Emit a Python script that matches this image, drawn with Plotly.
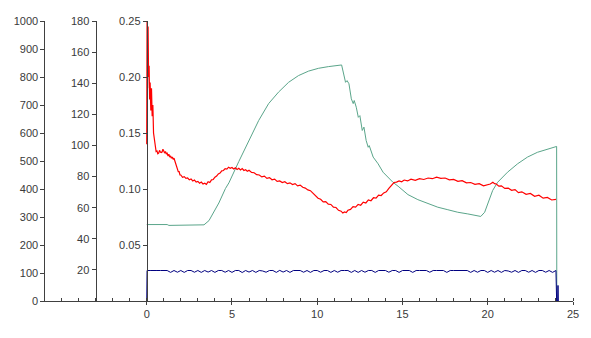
import plotly.graph_objects as go

# ---- data ----
# red series (time, value)
red_pairs = [
    (0.0, 0.140), (0.02, 0.250), (0.05, 0.190), (0.08, 0.245), (0.11, 0.200), (0.14, 0.210),
    (0.17, 0.180), (0.2, 0.195), (0.24, 0.170), (0.28, 0.190), (0.32, 0.165), (0.36, 0.175),
    (0.4, 0.150), (0.45, 0.145), (0.5, 0.136), (0.55, 0.1335), (0.6, 0.134), (0.65, 0.1315),
    (0.7, 0.132), (0.75, 0.1345), (0.8, 0.133), (0.85, 0.1325), (0.9, 0.133), (0.95, 0.1355),
    (1.0, 0.134), (1.05, 0.132), (1.1, 0.1335), (1.15, 0.1315), (1.2, 0.132), (1.25, 0.1295),
    (1.3, 0.131), (1.35, 0.1285), (1.4, 0.1295), (1.45, 0.1275), (1.5, 0.1285), (1.55, 0.1265),
    (1.6, 0.1275), (1.65, 0.125), (1.7, 0.1245), (1.75, 0.120), (1.8, 0.118), (1.85, 0.1155),
    (1.9, 0.1155), (1.95, 0.1125), (2.0, 0.1125), (2.1, 0.1105), (2.2, 0.111), (2.3, 0.1095),
    (2.4, 0.1098), (2.5, 0.1082), (2.6, 0.109), (2.7, 0.1072), (2.8, 0.108), (2.9, 0.1062),
    (3.0, 0.1068), (3.1, 0.1052), (3.2, 0.1062), (3.3, 0.1045), (3.4, 0.1052), (3.5, 0.1042),
    (3.6, 0.1065), (3.7, 0.1058), (3.8, 0.1082), (3.9, 0.1085), (4.0, 0.1105), (4.1, 0.1115),
    (4.2, 0.1135), (4.3, 0.1142), (4.4, 0.1162), (4.5, 0.1165), (4.6, 0.1182), (4.7, 0.1178),
    (4.8, 0.1195), (4.9, 0.1185), (5.0, 0.1192), (5.1, 0.1178), (5.2, 0.119), (5.3, 0.1175),
    (5.4, 0.1185), (5.5, 0.117), (5.6, 0.1182), (5.7, 0.1165), (5.8, 0.1172), (5.9, 0.1158),
    (6.0, 0.1168), (6.15, 0.1148), (6.3, 0.1145), (6.45, 0.1128), (6.6, 0.1125), (6.75, 0.1108),
    (6.9, 0.1115), (7.05, 0.1095), (7.2, 0.1102), (7.35, 0.1082), (7.5, 0.1088), (7.65, 0.1068),
    (7.8, 0.1072), (7.95, 0.1058), (8.1, 0.1065), (8.25, 0.1048), (8.4, 0.1055), (8.55, 0.104),
    (8.7, 0.1048), (8.85, 0.1028), (9.0, 0.1035), (9.15, 0.1015), (9.3, 0.1008), (9.45, 0.0992),
    (9.6, 0.0985), (9.75, 0.0962), (9.9, 0.0945), (10.05, 0.0918), (10.2, 0.0908), (10.35, 0.0885),
    (10.5, 0.0888), (10.65, 0.0865), (10.8, 0.0862), (10.95, 0.0838), (11.1, 0.0835), (11.25, 0.081),
    (11.4, 0.0802), (11.5, 0.0785), (11.6, 0.0795), (11.7, 0.079), (11.8, 0.081), (11.95, 0.0818),
    (12.1, 0.0842), (12.25, 0.0838), (12.4, 0.0862), (12.55, 0.0855), (12.7, 0.0882), (12.85, 0.0875),
    (13.0, 0.0902), (13.15, 0.0895), (13.3, 0.0922), (13.45, 0.0918), (13.6, 0.0945), (13.75, 0.0942),
    (13.9, 0.0965), (14.05, 0.0975), (14.2, 0.1005), (14.35, 0.1035), (14.5, 0.1058), (14.65, 0.1062),
    (14.8, 0.1072), (14.95, 0.1065), (15.1, 0.108), (15.3, 0.1072), (15.5, 0.1088), (15.75, 0.1078),
    (16.0, 0.1092), (16.25, 0.1085), (16.5, 0.1098), (16.75, 0.1092), (17.0, 0.1105), (17.25, 0.1095),
    (17.5, 0.1098), (17.75, 0.1082), (18.0, 0.1085), (18.25, 0.1068), (18.5, 0.1075), (18.75, 0.1055),
    (19.0, 0.1058), (19.25, 0.1042), (19.5, 0.1048), (19.75, 0.1028), (20.0, 0.1035), (20.15, 0.1045),
    (20.3, 0.106), (20.4, 0.1048), (20.5, 0.1045), (20.65, 0.1025), (20.8, 0.1028), (21.0, 0.1005),
    (21.2, 0.1008), (21.4, 0.0988), (21.6, 0.0995), (21.8, 0.0968), (22.0, 0.0975), (22.25, 0.0952),
    (22.5, 0.096), (22.75, 0.0935), (23.0, 0.0945), (23.25, 0.0918), (23.5, 0.0925), (23.75, 0.0902),
    (24.0, 0.0908),
]
red_t = [p[0] for p in red_pairs]
red_v = [p[1] for p in red_pairs]

green_t = [0.0, 1.2, 1.3, 3.0, 3.36, 3.65, 4.23, 4.62, 4.82, 5.40, 5.98, 6.57, 7.15, 7.73, 8.32, 8.9,
           9.49, 10.07, 10.65, 11.24, 11.43, 11.66, 11.75, 11.86, 12.0, 12.11, 12.17, 12.29, 12.41,
           12.5, 12.64, 12.74, 12.87, 12.99, 13.05, 13.28, 13.57, 13.86, 14.15, 14.44, 14.74, 15.32,
           15.9, 16.49, 17.07, 17.66, 18.24, 18.83, 19.41, 19.59, 19.82, 20.0, 20.29, 20.58, 20.87,
           21.16, 21.75, 22.33, 22.91, 23.5, 24.04, 24.05]
green_v = [273, 273, 270, 270, 272, 287, 350, 402, 422, 498, 570, 645, 705, 746, 781, 805,
           821, 831, 837, 840, 843, 781, 787, 776, 722, 705, 716, 692, 656,
           662, 609, 621, 573, 549, 555, 514, 490, 460, 442, 424, 410, 380,
           362, 347, 335, 326, 317, 311, 305, 302, 317, 347, 395, 424, 442,
           460, 490, 514, 531, 543, 552, 0]

blue_t = [0.0, 0.02] + [round(0.2 * i, 1) for i in range(1, 121)] + [24.04, 24.1, 24.12, 24.14]
blue_v = [0, 19.6,
          19.6, 19.8, 19.6, 19.6, 19.6, 19.6, 18.4, 19.6, 18.5, 19.6,
          18.4, 19.6, 19.6, 18.5, 19.6, 18.4, 19.6, 18.6, 19.6, 18.4,
          19.6, 19.6, 18.5, 19.6, 18.4, 19.6, 19.6, 18.3, 19.6, 18.6,
          19.6, 18.4, 19.6, 19.3, 18.5, 19.6, 19.6, 18.4, 19.7, 18.6,
          19.6, 18.4, 19.6, 19.6, 19.6, 18.5, 19.6, 18.4, 19.6, 19.6,
          18.5, 19.6, 19.6, 18.4, 19.6, 18.5, 19.6, 19.6, 19.6, 18.4,
          19.6, 18.4, 19.6, 18.5, 19.6, 19.6, 18.4, 19.6, 19.6, 19.6,
          18.5, 19.6, 19.6, 18.4, 19.6, 19.6, 19.6, 18.4, 19.6, 19.6,
          19.6, 19.6, 18.5, 19.6, 19.6, 19.6, 19.6, 18.4, 19.6, 19.6,
          19.6, 19.6, 19.6, 19.6, 18.4, 19.6, 18.5, 19.6, 19.6, 18.4,
          19.6, 18.5, 19.6, 18.4, 19.6, 19.3, 18.5, 19.6, 18.4, 19.6,
          19.6, 18.5, 19.6, 18.4, 19.6, 19.6, 18.5, 19.6, 18.4, 19.6,
          0, 0, 10, 0]

x_ticks = [0, 5, 10, 15, 20, 25]
y1_ticks = [0, 100, 200, 300, 400, 500, 600, 700, 800, 900, 1000]
y2_ticks = [20, 40, 60, 80, 100, 120, 140, 160, 180]
y3_ticks = [0.05, 0.10, 0.15, 0.20, 0.25]

X_MIN, X_MAX = -6.2, 25.0
AX1_X, AX2_X, AX3_X = -6.0, -3.0, 0.0


def pos(v):
    return (v - X_MIN) / (X_MAX - X_MIN)


LINE = "#404040"
TEXT = "#3a3a3a"
FONT = dict(family="Liberation Sans, Arial, sans-serif", size=11, color=TEXT)

fig = go.Figure()
fig.add_trace(go.Scatter(x=green_t, y=green_v, mode="lines", yaxis="y",
                         line=dict(color="#5AA58A", width=1), showlegend=False))
fig.add_trace(go.Scatter(x=blue_t, y=blue_v, mode="lines", yaxis="y2",
                         line=dict(color="#000080", width=1), showlegend=False))
fig.add_trace(go.Scatter(x=red_t, y=red_v, mode="lines", yaxis="y3",
                         line=dict(color="#FF0000", width=1.2), showlegend=False))

common_y = dict(showgrid=False, zeroline=False, showline=True, linecolor=LINE, linewidth=1,
                color=TEXT, ticks="outside", ticklen=4, tickcolor=LINE, tickfont=FONT,
                anchor="free", side="left", tickmode="array")

fig.update_layout(
    width=591, height=338,
    margin=dict(l=41, r=15, t=21, b=37),
    paper_bgcolor="white", plot_bgcolor="white",
    font=FONT,
    showlegend=False,
    xaxis=dict(range=[X_MIN, X_MAX], showgrid=False, zeroline=False, showline=True,
               linecolor=LINE, linewidth=1, color=TEXT, tickmode="array", tickvals=x_ticks,
               ticks="outside", ticklen=3, tickcolor=LINE, tickfont=FONT,
               minor=dict(tickmode="linear", tick0=0, dtick=1, ticks="inside",
                          ticklen=3, tickcolor=LINE)),
    yaxis=dict(range=[0, 1000], tickvals=y1_ticks, position=pos(AX1_X), **common_y),
    yaxis2=dict(range=[0, 180], tickvals=y2_ticks, position=pos(AX2_X), overlaying="y", **common_y),
    yaxis3=dict(range=[0, 0.25], tickvals=y3_ticks, ticktext=[f"{v:.2f}" for v in y3_ticks],
                position=pos(AX3_X), overlaying="y", **common_y),
)

fig.write_html("out.html", config={"displayModeBar": False},
               post_script="document.body.style.margin='0';")
